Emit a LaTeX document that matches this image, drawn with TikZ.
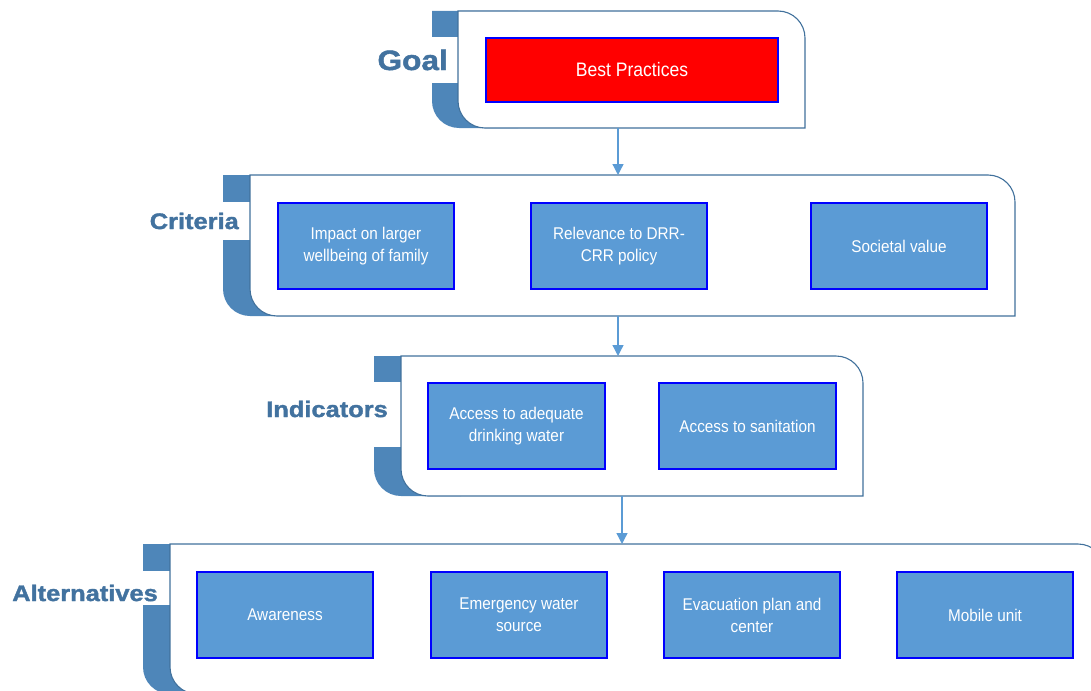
\documentclass[tikz,border=0pt]{standalone}
\usepackage{fontspec}
\setmainfont{Liberation Sans}
\newfontfamily\boxfont{Liberation Sans}[FakeStretch=0.9]
\newfontfamily\labelfont{Liberation Sans Bold}[FakeBold=1.6, FakeStretch=1.13]
\usetikzlibrary{arrows.meta}

\definecolor{tabblue}{HTML}{4E86B9}
\definecolor{framec}{HTML}{41719C}
\definecolor{labelc}{HTML}{42729F}
\definecolor{boxfill}{HTML}{5B9BD5}
\definecolor{linkc}{HTML}{5B9BD5}

\tikzset{
  itembox/.style={draw=blue, line width=2.2pt, fill=boxfill, text=white,
    font=\boxfont\fontsize{17}{22}\selectfont, align=center, inner sep=0pt,
    minimum width=176pt, minimum height=86pt},
  goalbox/.style={itembox, fill=red, font=\boxfont\fontsize{19.5}{24}\selectfont,
    minimum width=292pt, minimum height=64pt},
  tierlabel/.style={text=labelc, font=\labelfont\fontsize{22.5}{27}\selectfont,
    anchor=east, inner sep=0pt},
  panelframe/.style={draw=framec, line width=1.1pt, fill=white},
  link/.style={draw=linkc, line width=1.3pt, -{Triangle[width=11pt,length=11pt]}}
}

% #1 tab left, #2 panel left, #3 top, #4 bottom, #5 panel right,
% #6/#7 top and bottom of the white notch holding the tier label
\newcommand\drawtier[7]{%
  \fill[tabblue] (#1,-#3) -- (#1,{-#4+27})
    arc[start angle=180,end angle=270,radius=27]
    -- ({#2+60},-#4) -- ({#2+60},-#3) -- cycle;
  \fill[white] ({#1-1},-#6) rectangle (#2,-#7);
  \path[panelframe] (#2,-#3) -- ({#5-27},-#3)
    arc[start angle=90,end angle=0,radius=27]
    -- (#5,-#4) -- ({#2+27},-#4)
    arc[start angle=270,end angle=180,radius=27] -- cycle;
}

\begin{document}
\begin{tikzpicture}[x=1pt,y=1pt]
\useasboundingbox (0,0) rectangle (1091,-690);
\begin{scope}
\clip (0,0) rectangle (1091,-690);

% tiers
\drawtier{432}{458}{11}{128}{805}{37}{83}
\drawtier{223}{250}{175}{316}{1015}{202}{240}
\drawtier{374}{401}{356}{496}{863}{382}{447}
\drawtier{143}{170}{544}{694}{1105}{571}{605}

% tier labels
\node[tierlabel, font=\labelfont\fontsize{28}{33}\selectfont] (lgoal) at (448,-60) {Goal};
\node[tierlabel] (lcrit) at (239,-221) {Criteria};
\node[tierlabel] (lind) at (388,-409) {Indicators};
\node[tierlabel] (lalt) at (158,-593) {Alternatives};

% goal
\node[goalbox] (best) at (632,-70) {Best Practices};

% criteria
\node[itembox] (impact) at (366,-246) {Impact on larger\\wellbeing of family};
\node[itembox] (relev) at (619,-246) {Relevance to DRR-\\CRR policy};
\node[itembox] (societal) at (899,-246) {Societal value};

% indicators
\node[itembox, minimum width=177pt] (water) at (516.5,-426) {Access to adequate\\drinking water};
\node[itembox, minimum width=177pt] (sanit) at (747.5,-426) {Access to sanitation};

% alternatives
\node[itembox] (aware) at (285,-615) {Awareness};
\node[itembox] (emerg) at (519,-615) {Emergency water\\source};
\node[itembox] (evac) at (752,-615) {Evacuation plan and\\center};
\node[itembox] (mobile) at (985,-615) {Mobile unit};

% links between tiers
\coordinate (goalbot) at (618,-128);
\coordinate (crittop) at (618,-175);
\coordinate (critbot) at (618,-316);
\coordinate (indtop) at (618,-356);
\coordinate (indbot) at (622,-496);
\coordinate (alttop) at (622,-544);
\draw[link] (goalbot) -- (crittop);
\draw[link] (critbot) -- (indtop);
\draw[link] (indbot) -- (alttop);
\end{scope}
\end{tikzpicture}
\end{document}
